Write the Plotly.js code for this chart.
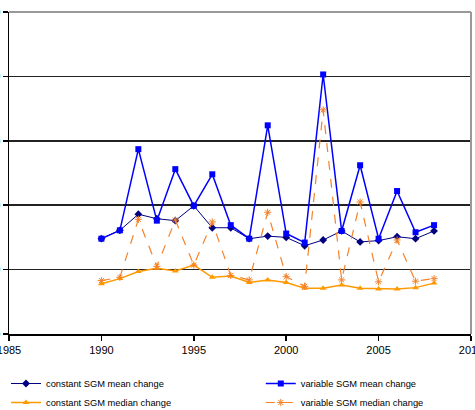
<!DOCTYPE html>
<html>
<head>
<meta charset="utf-8">
<script src="https://cdn.plot.ly/plotly-3.0.1.min.js"></script>
<style>html,body{margin:0;padding:0;background:#fff;}#chart{width:475px;height:410px;}</style>
</head>
<body>
<div id="chart"></div>
<script>
const years = [1990,1991,1992,1993,1994,1995,1996,1997,1998,1999,2000,2001,2002,2003,2004,2005,2006,2007,2008];
const constantMean   = [14.8,16.1,18.6,17.9,17.6,19.9,16.5,16.5,14.8,15.2,15.0,13.7,14.6,16.0,14.3,14.5,15.1,14.8,16.0];
const variableMean   = [14.8,16.1,28.7,17.6,25.6,19.9,24.8,16.9,14.8,32.4,15.6,14.2,40.3,16.0,26.2,14.8,22.2,15.8,16.9];
const constantMedian = [7.8,8.6,9.7,10.2,9.8,10.7,8.8,9.0,8.0,8.4,8.0,7.1,7.1,7.6,7.1,7.0,7.0,7.2,7.9];
const variableMedian = [8.3,8.8,17.8,10.5,17.7,10.7,17.4,9.1,8.4,18.9,8.9,7.4,34.8,8.4,20.5,8.1,14.6,8.2,8.6];
const seriesNames = ['constant SGM mean change','variable SGM mean change','constant SGM median change','variable SGM median change'];
const xTicks = [1985,1990,1995,2000,2005,2010];
const yTicks = [0,10,20,30,40,50];

const traces = [
  {x: years, y: constantMean, name: seriesNames[0], mode: 'lines+markers', legend: 'legend',
   line: {color: '#000080', width: 1}, marker: {symbol: 'diamond', size: 6, color: '#000080'}},
  {x: years, y: variableMean, name: seriesNames[1], mode: 'lines+markers', legend: 'legend2',
   line: {color: '#0000FF', width: 1.5}, marker: {symbol: 'square', size: 6, color: '#0000FF'}},
  {x: years, y: constantMedian, name: seriesNames[2], mode: 'lines+markers', legend: 'legend',
   line: {color: '#FF9900', width: 1.5}, marker: {symbol: 'triangle-up', size: 6, color: '#FF9900'}},
  {x: years, y: variableMedian, name: seriesNames[3], mode: 'lines+markers', legend: 'legend2',
   line: {color: '#F5822A', width: 1.2, dash: 'dash'}, marker: {symbol: 'asterisk-open', size: 6, color: '#F5822A', line: {color: '#F5822A', width: 1}}}
];

const legendFont = {size: 9.3, family: 'Liberation Sans, Arial, sans-serif'};
const layout = {
  width: 475, height: 410,
  margin: {l: 9, r: 4, t: 12, b: 76},
  paper_bgcolor: '#fff', plot_bgcolor: '#fff',
  font: {family: 'Liberation Sans, Arial, sans-serif', size: 11, color: '#000'},
  showlegend: true,
  legend: {orientation: 'v', xref: 'paper', yref: 'container', x: -0.0065, y: 0.1, xanchor: 'left', yanchor: 'top', itemwidth: 30,
           bgcolor: 'rgba(0,0,0,0)', font: legendFont, tracegroupgap: 0},
  legend2: {orientation: 'v', xref: 'paper', yref: 'container', x: 0.545, y: 0.1, xanchor: 'left', yanchor: 'top', itemwidth: 30,
           bgcolor: 'rgba(0,0,0,0)', font: legendFont, tracegroupgap: 0},
  xaxis: {range: [1985, 2010], tickvals: xTicks, ticktext: xTicks.map(String), ticklabeloverflow: 'allow',
          showgrid: false, zeroline: false, showline: true, linecolor: '#000', linewidth: 1.5,
          ticks: 'outside', ticklen: 5, tickcolor: '#000', tickwidth: 1.5, tickfont: {size: 11}},
  yaxis: {range: [0, 50], tickvals: yTicks, ticklabeloverflow: 'allow', showgrid: true, gridcolor: '#222', gridwidth: 1.5,
          zeroline: false, showline: true, linecolor: '#000', linewidth: 1.5,
          ticks: 'outside', ticklen: 5, tickcolor: '#000', tickwidth: 1.5, tickfont: {size: 11}},
  shapes: [
    {type: 'line', xref: 'paper', yref: 'paper', x0: 0, x1: 1, y0: 1, y1: 1, line: {color: '#999', width: 2}},
    {type: 'line', xref: 'paper', yref: 'paper', x0: 1, x1: 1, y0: 0, y1: 1, line: {color: '#999', width: 2}}
  ]
};

Plotly.newPlot('chart', traces, layout, {displayModeBar: false, staticPlot: true});
</script>
</body>
</html>
